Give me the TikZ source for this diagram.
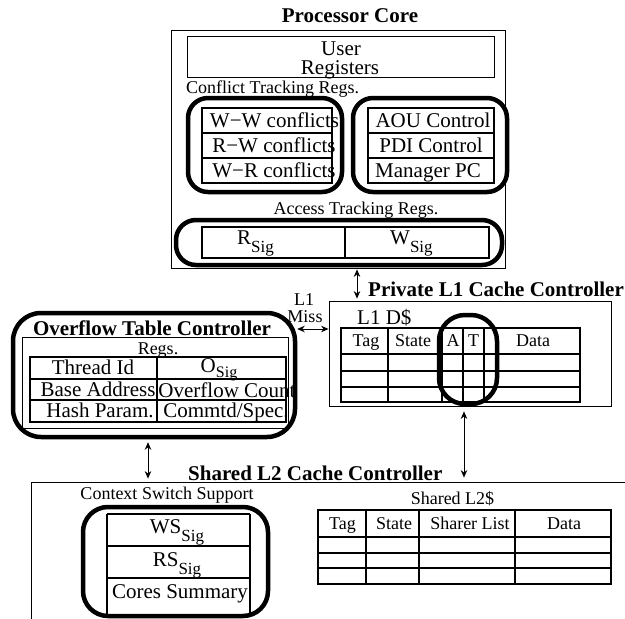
\documentclass[tikz,border=0pt]{standalone}
\usepackage{fontspec}
\setmainfont{Liberation Serif}
\usetikzlibrary{arrows.meta,fit}

% lowered "Sig" subscript used in the signature registers
\newcommand{\sigsub}{\raisebox{-0.38em}{\fontsize{17}{17}\selectfont Sig}}

\begin{document}
\begin{tikzpicture}[x=1pt,y=-1pt,
  box/.style={draw, line width=0.8pt, inner sep=0pt},
  grp/.style={draw, line width=4.5pt, rounded corners=#1, inner sep=0pt},
  grp/.default=20pt,
  cell/.style={line width=1.1pt},
  main/.style={font=\fontsize{21}{23}\selectfont, inner sep=0pt, text height=13.9pt, text depth=0pt},
  lab/.style={font=\fontsize{18}{20}\selectfont, inner sep=0pt, text height=11.9pt, text depth=0pt},
  ttl/.style={font=\bfseries\fontsize{21}{23}\selectfont, inner sep=0pt, text height=14pt, text depth=0pt},
  link/.style={line width=0.9pt, {Stealth[length=7.5pt,width=6.5pt]}-{Stealth[length=7.5pt,width=6.5pt]}},
]
\fill[white] (0,0) rectangle (625,619);
\useasboundingbox (0,0) rectangle (625,619);

% ---------------- Processor core ----------------
\node[ttl] (proctitle) at (350,15) {Processor Core};
\node[box, fit={(171,30)(505,268)}] (proc) {};
\node[box, fit={(187,36)(494,77)}] (userreg) {};
\node[main] (usr1) at (341,48.7) {User};
\node[main] (usr2) at (340,68) {Registers};
\node[lab, anchor=west] (ctlab) at (186,88) {Conflict Tracking Regs.};

\draw[cell] (202,108) rectangle (332,183) (202,133) -- (332,133) (202,158) -- (332,158);
\node[main] (ww) at (274.5,121) {W−W conflicts};
\node[main] (rw) at (274,146) {R−W conflicts};
\node[main] (wr) at (274,171) {W−R conflicts};

\draw[cell] (368,108) rectangle (494,183) (368,133) -- (494,133) (368,158) -- (494,158);
\node[main] (aou) at (433,121) {AOU Control};
\node[main] (pdi) at (431,146) {PDI Control};
\node[main] (mpc) at (428,171) {Manager PC};

\node[grp, fit={(188,98)(342,192)}] (ctgrp) {};
\node[grp, fit={(353,98)(507,192)}] (ctlgrp) {};

\node[lab] (atlab) at (356,209) {Access Tracking Regs.};
\draw[cell] (202,227) rectangle (489,258) (345,227) -- (345,258);
\node[main, anchor=west] (rsig) at (237,237.5) {R\sigsub};
\node[main, anchor=west] (wsig) at (390,237.5) {W\sigsub};
\node[grp, fit={(176,220)(502,265)}] (atgrp) {};

% ---------------- Private L1 ----------------
\node[ttl, anchor=west] (l1title) at (368,289) {Private L1 Cache Controller};
\node[box, fit={(329,301)(611,406)}] (l1) {};
\node[main, anchor=west] (l1d) at (357,318) {L1 D\$};
\draw[cell] (341,328) rectangle (580,402);
\foreach \yy in {354,371,387} \draw[cell] (341,\yy) -- (580,\yy);
\foreach \xx in {388,442,463,484} \draw[cell] (\xx,328) -- (\xx,402);
\node[lab] (l1h1) at (366,341) {Tag};
\node[lab] (l1h2) at (413,341) {State};
\node[lab] (l1h3) at (453,341) {A};
\node[lab] (l1h4) at (473.5,341) {T};
\node[lab] (l1h5) at (533,341) {Data};
\node[grp=26pt, fit={(439,315)(497,404)}] (atoval) {};

\node[lab] (miss1) at (304,299.5) {L1};
\node[lab] (miss2) at (305,317) {Miss};

% ---------------- Overflow table controller ----------------
\node[box, fit={(22,337)(288,428)}] (ovfin) {};
\node[ttl] (ovftitle) at (152,328.5) {Overflow Table Controller};
\node[lab] (regs) at (158,349) {Regs.};
\draw[cell] (30,357) rectangle (286,422) (30,379) -- (286,379) (30,400) -- (286,400) (157,357) -- (157,422);
\node[main] (tid) at (93,368) {Thread Id};
\node[main] (base) at (98,389.5) {Base Address};
\node[main] (hash) at (100,410.5) {Hash Param.};
\node[main] (osig) at (219,365.5) {O\raisebox{-0.22em}{\fontsize{16}{16}\selectfont Sig}};
\node[main] (ocnt) at (227,390.5) {Overflow Count};
\node[main] (spec) at (226,410.5) {Commtd/Spec.};
\node[grp=28pt, fit={(13,313)(295,437)}] (ovfgrp) {};

% ---------------- Shared L2 ----------------
\node[ttl, anchor=west] (l2title) at (188,473) {Shared L2 Cache Controller};
\node[box, fit={(31,482)(640,640)}] (l2) {};
\node[lab] (cssl) at (167,494) {Context Switch Support};
\draw[cell] (107,514) -- (107,616) (250,514) -- (250,616)
            (107,514) -- (250,514) (107,546) -- (250,546) (107,578) -- (250,578);
\node[main] (ws) at (177,527) {WS\sigsub};
\node[main] (rs) at (177,559.5) {RS\sigsub};
\node[main] (cores) at (180,592) {Cores Summary};
\node[grp=25pt, fit={(83,507)(268,616)}] (csgrp) {};

\node[lab] (l2lab) at (452.5,499) {Shared L2\$};
\draw[cell] (318,510) rectangle (611,584);
\foreach \yy in {537,553,568} \draw[cell] (318,\yy) -- (611,\yy);
\foreach \xx in {366,419,515} \draw[cell] (\xx,510) -- (\xx,584);
\node[lab] (l2h1) at (342.5,523.5) {Tag};
\node[lab] (l2h2) at (394,523.5) {State};
\node[lab] (l2h3) at (470,523.5) {Sharer List};
\node[lab] (l2h4) at (564,523.5) {Data};

% ---------------- Connectors ----------------
\coordinate (xa) at (357,0);
\coordinate (xb) at (148,0);
\coordinate (xc) at (464,0);
\coordinate (ym) at (0,329);
\draw[link, shorten <=1pt, shorten >=2pt] (proc.south -| xa) -- (l1.north -| xa);
\draw[link, shorten <=3pt, shorten >=3pt] (ovfgrp.south -| xb) -- (l2.north -| xb);
\draw[link, shorten <=5pt, shorten >=4pt] (l1.south -| xc) -- (l2.north -| xc);
\draw[link] (ovfgrp.east |- ym) -- (l1.west |- ym);
\end{tikzpicture}
\end{document}
